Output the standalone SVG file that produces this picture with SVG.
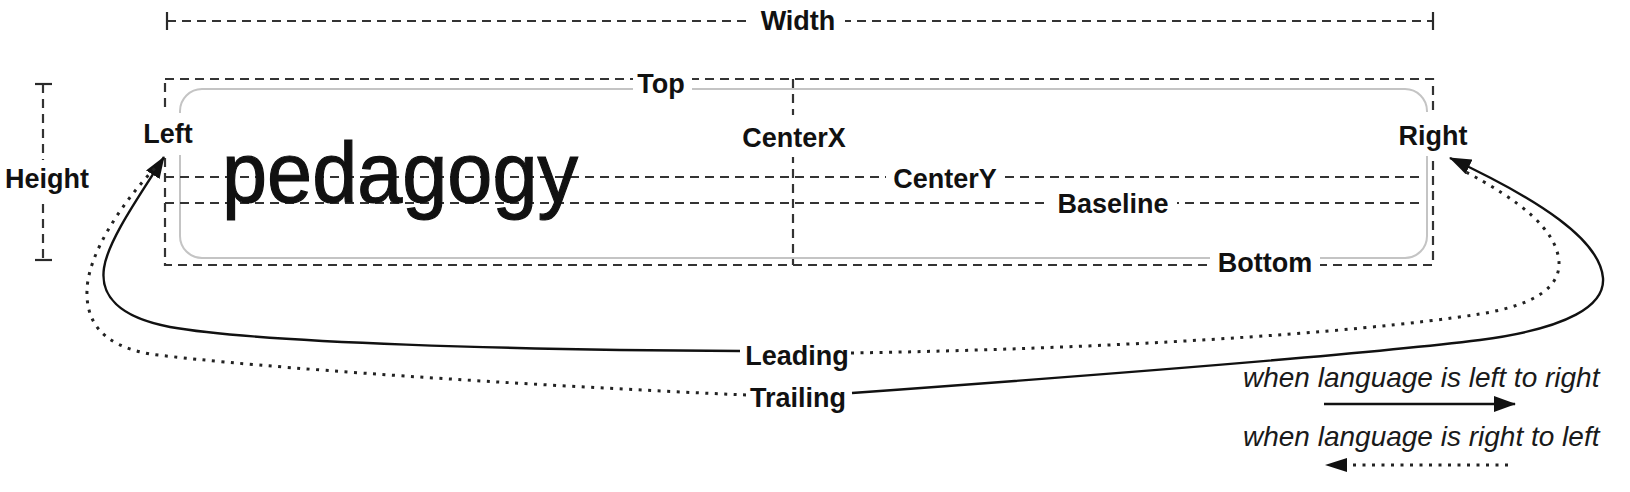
<svg xmlns="http://www.w3.org/2000/svg" width="1630" height="492" viewBox="0 0 1630 492">
  <style>
    .guide { fill: none; stroke: #333333; stroke-width: 2.2; stroke-dasharray: 9 6; }
    .tick { fill: none; stroke: #2a2a2a; stroke-width: 2.2; }
    .frame { fill: none; stroke: #c4c4c4; stroke-width: 2; }
    .lbl { font-family: "Liberation Sans", Arial, Helvetica, sans-serif; font-weight: bold; font-size: 27px; fill: #111; text-anchor: middle; }
    .bg { fill: #ffffff; }
    .big { font-family: "Liberation Sans", Arial, Helvetica, sans-serif; font-size: 86px; fill: #111; stroke: #111; stroke-width: 1.2; }
    .legend { font-family: "Liberation Sans", Arial, Helvetica, sans-serif; font-style: italic; font-size: 28px; fill: #1a1a1a; }
    .solid { fill: none; stroke: #111; stroke-width: 2.4; }
    .dotted { fill: none; stroke: #222; stroke-width: 3; stroke-dasharray: 3 6.5; }
  </style>
  <defs>
    <marker id="head" viewBox="0 0 22 16" refX="21" refY="8" markerWidth="22" markerHeight="16" markerUnits="userSpaceOnUse" orient="auto">
      <path d="M0,0 L22,8 L0,16 z" fill="#111"/>
    </marker>
  </defs>

  <rect width="1630" height="492" fill="#ffffff"/>

  <g id="guides">
    <line class="guide" x1="167" y1="21" x2="1433" y2="21"/>
    <line class="tick" x1="167" y1="12" x2="167" y2="30"/>
    <line class="tick" x1="1433" y1="12" x2="1433" y2="30"/>
    <line class="guide" x1="43" y1="84" x2="43" y2="260"/>
    <line class="tick" x1="35" y1="84" x2="52" y2="84"/>
    <line class="tick" x1="35" y1="260" x2="52" y2="260"/>
    <rect class="frame" x="180" y="89" width="1247" height="169" rx="22" ry="22"/>
    <rect class="guide" x="165" y="79" width="1268" height="186"/>
    <line class="guide" x1="793" y1="79" x2="793" y2="265"/>
    <line class="guide" x1="165" y1="177" x2="1423" y2="177"/>
    <line class="guide" x1="165" y1="203" x2="1423" y2="203"/>
  </g>

  <g id="sample-text">
    <text class="big" x="222" y="202" textLength="356" lengthAdjust="spacingAndGlyphs">pedagogy</text>
  </g>

  <g id="label-width"><rect class="bg" x="752" y="8" width="93" height="28"/><text class="lbl" x="798" y="30">Width</text></g>
  <g id="label-height"><rect class="bg" x="0" y="160" width="94" height="38"/><text class="lbl" x="47" y="188">Height</text></g>
  <g id="label-top"><rect class="bg" x="633" y="68" width="59" height="30"/><text class="lbl" x="661" y="93">Top</text></g>
  <g id="label-left"><rect class="bg" x="140" y="113" width="56" height="42"/><text class="lbl" x="168" y="143">Left</text></g>
  <g id="label-right"><rect class="bg" x="1396" y="112" width="74" height="44"/><text class="lbl" x="1433" y="145">Right</text></g>
  <g id="label-centerx"><rect class="bg" x="738" y="115" width="112" height="42"/><text class="lbl" x="794" y="147">CenterX</text></g>
  <g id="label-centery"><rect class="bg" x="886" y="164" width="118" height="28"/><text class="lbl" x="945" y="188">CenterY</text></g>
  <g id="label-baseline"><rect class="bg" x="1050" y="190" width="127" height="26"/><text class="lbl" x="1113" y="213">Baseline</text></g>
  <g id="label-bottom"><rect class="bg" x="1210" y="248" width="110" height="30"/><text class="lbl" x="1265" y="272">Bottom</text></g>
  <g id="label-leading"><text class="lbl" x="797" y="365">Leading</text></g>
  <g id="label-trailing"><text class="lbl" x="798" y="407">Trailing</text></g>

  <g id="connectors">
    <path class="solid" d="M740,351 C520,350 260,343 170,327 C118,317 100,295 104,268 C108,240 140,195 164,157" marker-end="url(#head)"/>
    <path class="dotted" d="M746,395 C520,385 260,368 150,354 C100,345 86,320 87,290 C88,255 120,205 155,168"/>
    <path class="dotted" d="M851,353 C1100,349 1350,334 1480,314 C1540,304 1560,285 1559,262 C1557,230 1520,200 1462,170"/>
    <path class="solid" d="M852,393 C1100,375 1350,356 1480,340 C1570,328 1605,305 1603,278 C1600,240 1540,200 1450,158" marker-end="url(#head)"/>
  </g>

  <g id="legend">
    <text class="legend" x="1243" y="387">when language is left to right</text>
    <line class="solid" x1="1324" y1="404" x2="1515" y2="404" marker-end="url(#head)"/>
    <text class="legend" x="1243" y="446">when language is right to left</text>
    <line class="dotted" x1="1508" y1="465" x2="1345" y2="465" stroke-dasharray="3 8"/>
    <path d="M1347,458 L1325,465 L1347,472 z" fill="#111"/>
  </g>
</svg>
